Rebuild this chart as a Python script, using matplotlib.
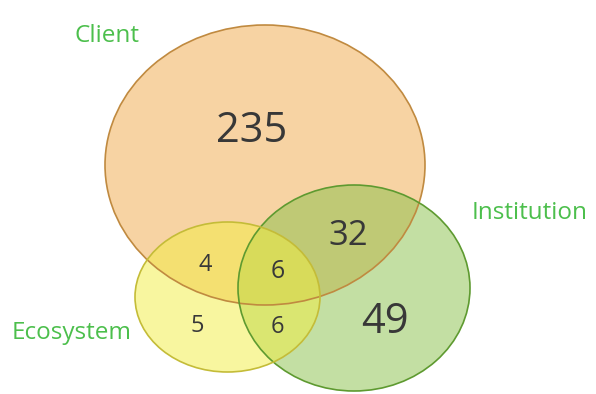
import matplotlib.pyplot as plt
from matplotlib.patches import Ellipse

# set names and region counts
set_names = ['Client', 'Institution', 'Ecosystem']
region_labels = ['235', '32', '49', '4', '6', '5', '6']
region_sizes = [30, 25, 30, 17, 18, 17, 17]

# circle geometry in pixel space (x, y, width, height)
circle_x = [265, 354, 227.5]
circle_y = [165, 288, 297]
circle_w = [320, 232, 185]
circle_h = [280, 206, 150]
fills = ['#F0A848', '#88C048', '#F2EE40']
edges = ['#C08A40', '#5E9A30', '#C4BC38']

label_x = [107, 530, 72]
label_y = [36, 213, 333]
num_x = [252, 348, 385, 205, 278, 197, 277]
num_y = [131, 236, 322, 265, 272, 326, 327]

fig = plt.figure(figsize=(5.96, 3.94), dpi=100)
ax = fig.add_axes([0, 0, 1, 1])
ax.set_xlim(0, 596)
ax.set_ylim(394, 0)
ax.axis('off')

for i in range(3):
    ax.add_patch(Ellipse((circle_x[i], circle_y[i]), circle_w[i], circle_h[i],
                         facecolor=fills[i], alpha=0.5, edgecolor='none'))
for i in range(3):
    ax.add_patch(Ellipse((circle_x[i], circle_y[i]), circle_w[i], circle_h[i],
                         facecolor='none', edgecolor=edges[i], linewidth=1.2))

for name, x, y in zip(set_names, label_x, label_y):
    ax.text(x, y, name, ha='center', va='center', fontsize=17.5,
            color='#4CBF4C', family='Open Sans')

for lab, x, y, s in zip(region_labels, num_x, num_y, region_sizes):
    ax.text(x, y, lab, ha='center', va='center', fontsize=s,
            color='#383838', family='Open Sans')

plt.savefig('out.png', dpi=100)
